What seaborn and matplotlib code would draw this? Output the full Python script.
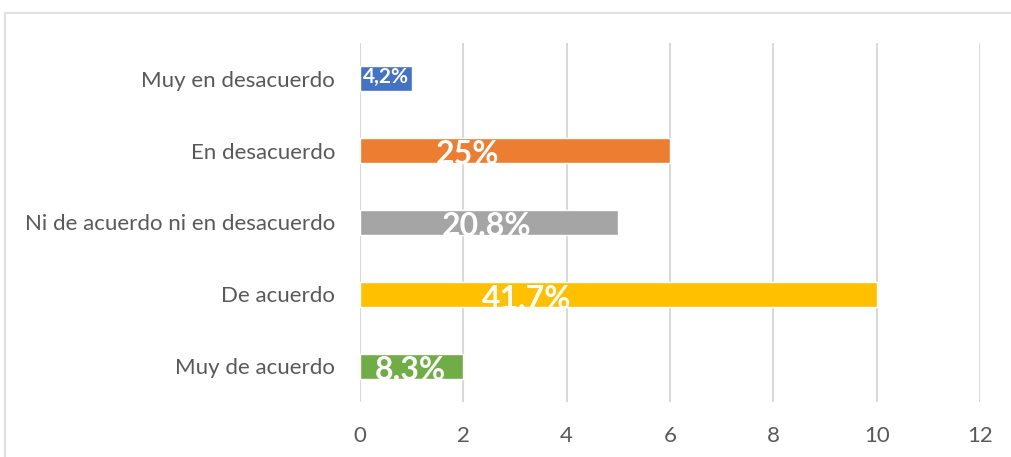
import matplotlib
matplotlib.use("Agg")
import matplotlib.pyplot as plt
import matplotlib.patches as mpatches
import seaborn as sns
import pandas as pd

categories = ["Muy en desacuerdo", "En desacuerdo", "Ni de acuerdo ni en desacuerdo",
              "De acuerdo", "Muy de acuerdo"]
values = [1, 6, 5, 10, 2]
labels = ["4,2%", "25%", "20.8%", "41,7%", "8.3%"]
label_x = [0.5, 2.09, 2.44, 3.23, 0.97]
label_sizes = [15, 23, 23, 23, 23]
colors = ["#4472C4", "#ED7D31", "#A5A5A5", "#FFC000", "#70AD47"]
xticks = [0, 2, 4, 6, 8, 10, 12]

df = pd.DataFrame({"cat": categories, "val": values})

sns.set_style("white")
plt.rcParams["font.family"] = ["Lato", "DejaVu Sans"]

fig = plt.figure(figsize=(10.11, 4.57), dpi=100)
ax = fig.add_axes([360/1011, 1-402/457, 620/1011, 359/457])

sns.barplot(data=df, y="cat", x="val", hue="cat", palette=colors, orient="h",
            width=0.35, legend=False, ax=ax, saturation=1)

ax.set_xlim(0, 12)
ax.set_ylim(4.5, -0.5)
ax.set_xticks(xticks)
ax.set_xticklabels([str(t) for t in xticks])
ax.grid(axis="x", color="#D9D9D9", linewidth=1.5)
ax.grid(axis="y", visible=False)
ax.set_axisbelow(True)
for s in ax.spines.values():
    s.set_visible(False)
ax.set_xlabel("")
ax.set_ylabel("")
ax.tick_params(axis="y", length=0, pad=18, labelsize=16, labelcolor="#595959")
ax.tick_params(axis="x", length=0, pad=17, labelsize=16, labelcolor="#595959")

bars = ax.patches
for i, (b, lab) in enumerate(zip(bars, labels)):
    yc = b.get_y() + b.get_height() / 2
    off = 0.06 if i == 0 else 0.19
    t = ax.text(label_x[i], yc + off, lab, ha="center", va="baseline",
                color="white", fontweight="bold", fontsize=label_sizes[i])
    t.set_clip_path(b)

rect = mpatches.Rectangle((5/1011, -0.05), 1.2, 1 - 13/457 + 0.05,
                          transform=fig.transFigure, fill=False,
                          edgecolor="#D9D9D9", linewidth=1.2)
fig.patches.append(rect)

fig.savefig("out.png", dpi=100)
